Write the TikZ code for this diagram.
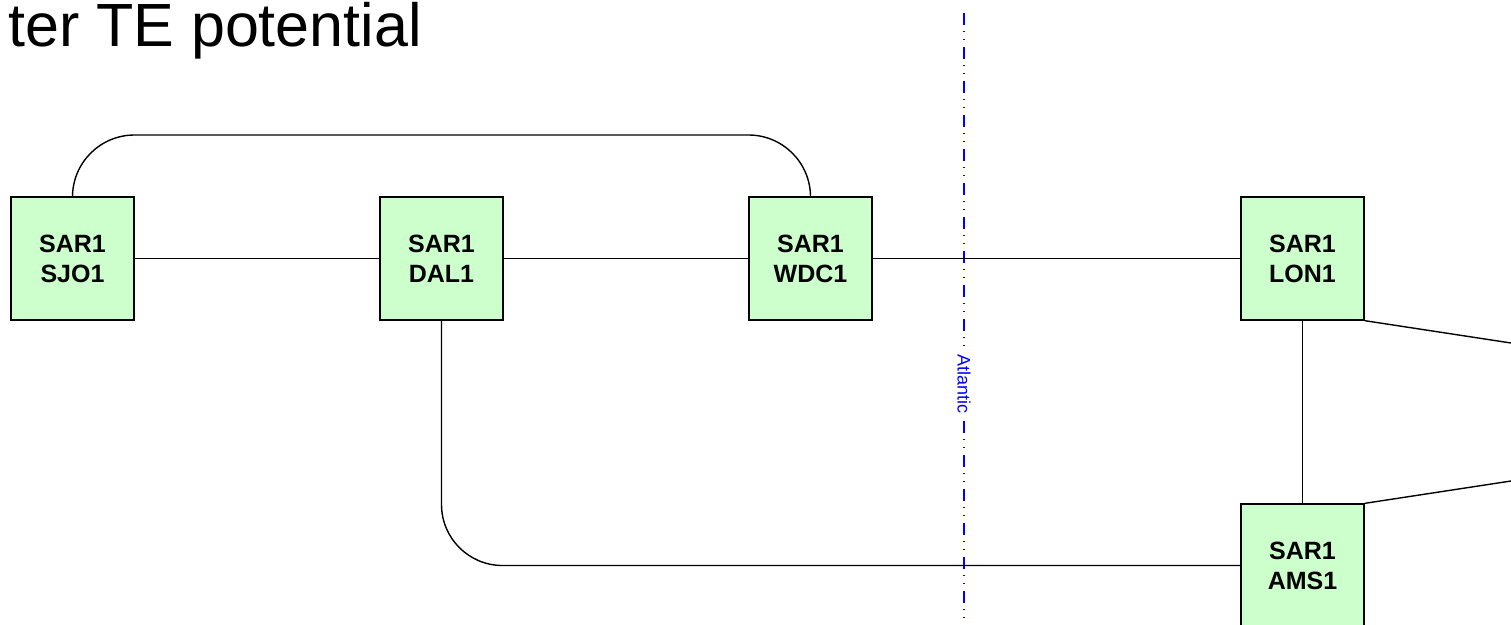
\documentclass[tikz,border=0pt]{standalone}
\usepackage{fontspec}
\setmainfont{Liberation Sans}
\tikzset{
  sar/.style={draw, line width=1.3pt, fill=sargreen, minimum size=123pt, inner sep=0pt,
    align=center, font=\bfseries\fontsize{25}{30}\selectfont},
  link/.style={line width=1.4pt},
  border/.style={draw=blue, line width=1.4pt,
    dash pattern=on 12pt off 6.3pt on 1.3pt off 6.3pt on 1.3pt off 6.8pt}
}
\definecolor{sargreen}{HTML}{CCFFCC}
\begin{document}
\begin{tikzpicture}[x=1pt,y=-1pt]
\useasboundingbox (0,0) rectangle (1511,624);
\node[anchor=base east, inner sep=0pt, font=\fontsize{61}{66}\selectfont] (title) at (422,46) {ter TE potential};
\node[sar] (sjo) at (72.5,258.5) {SAR1\\SJO1};
\node[sar] (dal) at (441.5,258.5) {SAR1\\DAL1};
\node[sar] (wdc) at (810.5,258.5) {SAR1\\WDC1};
\node[sar] (lon) at (1302.5,258.5) {SAR1\\LON1};
\node[sar] (ams) at (1302.5,565.5) {SAR1\\AMS1};
\coordinate (arc) at (0,135);
\coordinate (offhi) at (1511,343);
\coordinate (offlo) at (1511,481);
\coordinate (atltop) at (964,12.7);
\coordinate (atlbot) at (964,624);
\draw[border] (atltop) -- (atlbot);
\node[rotate=-90, fill=white, inner sep=1pt, text=blue, font=\fontsize{18}{20}\selectfont] (atl) at (964,384) {Atlantic};
\draw[link] (sjo) -- (dal);
\draw[link] (dal) -- (wdc);
\draw[link] (wdc) -- (lon);
\draw[link, rounded corners=62pt] (sjo.north) |- (arc -| wdc.north) -- (wdc.north);
\draw[link, rounded corners=61pt] (dal.south) |- (ams.west);
\draw[link] (lon) -- (ams);
\draw[link] (lon.south east) -- (offhi);
\draw[link] (ams.north east) -- (offlo);
\end{tikzpicture}
\end{document}
